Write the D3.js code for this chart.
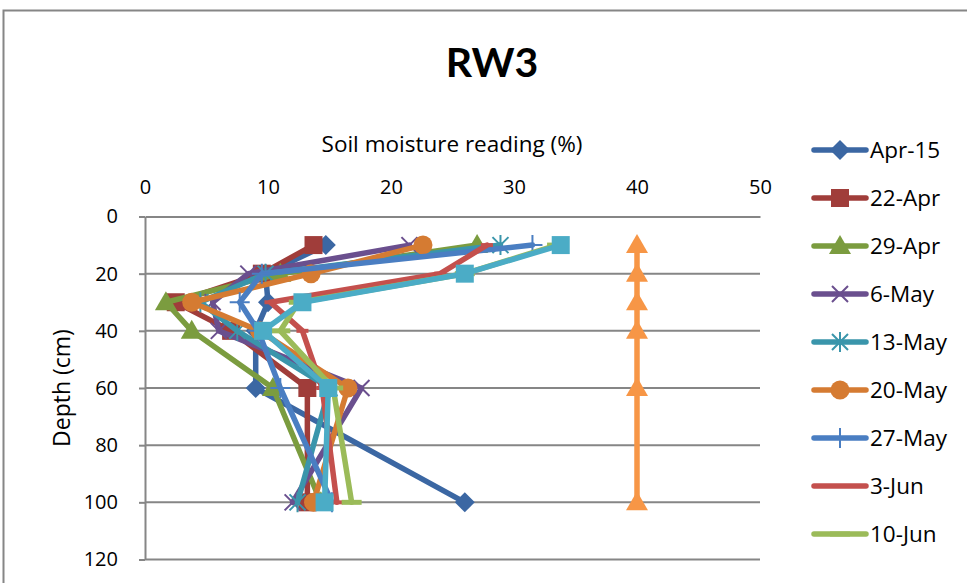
<!DOCTYPE html>
<html>
<head>
<meta charset="utf-8">
<script src="https://cdn.jsdelivr.net/npm/d3@7"></script>
<style>
  html, body { margin: 0; padding: 0; background: #fff; }
  svg { display: block; }
  text { font-family: "Open Sans", Lato, sans-serif; fill: #000; }
</style>
</head>
<body>
<svg id="chart" width="967" height="583"></svg>
<script>
// Sampling depths (cm)
const depths = [10, 20, 30, 40, 60, 100];

// Soil moisture readings (%) at each depth, one list per reading date
const seriesNames = ["Apr-15", "22-Apr", "29-Apr", "6-May", "13-May", "20-May", "27-May", "3-Jun", "10-Jun", "17-Jun", "24-Jun"];
const apr15 = [14.7, 9.8, 10.0, 9.0, 9.0, 26.0];
const apr22 = [13.7, 9.5, 2.5, 7.0, 13.2, 13.2];
const apr29 = [27.0, 11.0, 1.7, 3.8, 10.4, 14.3];
const may6  = [21.5, 8.4, 5.5, 6.0, 17.6, 12.0];
const may13 = [28.9, 9.8, 4.5, 7.5, 15.0, 12.4];
const may20 = [22.6, 13.5, 3.8, 9.3, 16.5, 13.7];
const may27 = [31.5, 9.5, 7.7, 9.2, 11.0, 15.2];
const jun3  = [27.8, 24.0, 10.2, 12.8, 14.4, 15.6];
const jun10 = [33.5, 26.0, 12.5, 11.0, 15.3, 16.8];
const jun17 = [33.8, 26.0, 12.8, 9.6, 14.9, 14.6];
const jun24 = [40, 40, 40, 40, 40, 40];
const seriesValues = [apr15, apr22, apr29, may6, may13, may20, may27, jun3, jun10, jun17, jun24];

// Axis tick values
const xTicks = [0, 10, 20, 30, 40, 50];
const yTicks = [0, 20, 40, 60, 80, 100, 120];

// Entries shown in the legend
const legendCount = 9;

const colors = ["#3B67A3", "#A03D3A", "#7B9C3F", "#6A4F8E", "#3A95AB", "#D57B32",
                "#4A7EC2", "#C4504D", "#9BBB59", "#4BACC6", "#F79646"];
const markers = ["diamond", "square", "triangle", "x", "asterisk", "circle",
                 "plus", "dash", "longdash", "square", "triangle"];

const svg = d3.select("#chart");

// Outer chart frame
svg.append("rect")
  .attr("x", 3.5).attr("y", 10.5)
  .attr("width", 1100).attr("height", 1000)
  .attr("fill", "#fff").attr("stroke", "#868686").attr("stroke-width", 2);

const plot = { left: 145, right: 760, top: 216.5, bottom: 559.5 };

const x = d3.scaleLinear().domain([0, 50]).range([plot.left, plot.right]);
const y = d3.scaleLinear().domain([0, 120]).range([plot.top, plot.bottom]);

// Title
svg.append("text")
  .attr("x", 492).attr("y", 77)
  .attr("text-anchor", "middle")
  .style("font-family", "'Liberation Sans Narrow', Lato, sans-serif")
  .style("font-weight", "bold").style("font-size", "41px")
  .text("RW3");

// Horizontal gridlines
svg.append("g").selectAll("line")
  .data(yTicks.filter(t => t > 0 && t < 120))
  .join("line")
  .attr("x1", plot.left).attr("x2", plot.right)
  .attr("y1", d => y(d)).attr("y2", d => y(d))
  .attr("stroke", "#868686").attr("stroke-width", 2);

// Top (value) axis
const xAxis = svg.append("g")
  .attr("transform", `translate(0,${plot.top})`)
  .call(d3.axisTop(x).tickValues(xTicks).tickSize(0).tickPadding(23));
xAxis.select(".domain").attr("stroke", "#868686").attr("stroke-width", 2);
xAxis.selectAll("text").style("font-size", "20px").style("font-family", "'Open Sans', sans-serif");

// Left (depth) axis
const yAxis = svg.append("g")
  .attr("transform", `translate(${plot.left},0)`)
  .call(d3.axisLeft(y).tickValues(yTicks).tickSize(6).tickPadding(21).tickSizeOuter(0));
yAxis.select(".domain").attr("stroke", "#868686").attr("stroke-width", 2);
yAxis.selectAll(".tick line").attr("stroke", "#868686").attr("stroke-width", 2);
yAxis.selectAll("text").style("font-size", "20px").style("font-family", "'Open Sans', sans-serif");

// Bottom frame line of the plot area
svg.append("line")
  .attr("x1", plot.left).attr("x2", plot.right)
  .attr("y1", plot.bottom).attr("y2", plot.bottom)
  .attr("stroke", "#868686").attr("stroke-width", 2);

// Axis titles
svg.append("text")
  .attr("x", 452).attr("y", 152)
  .attr("text-anchor", "middle")
  .style("font-size", "22.5px")
  .text("Soil moisture reading (%)");

svg.append("text")
  .attr("transform", `translate(70,${(plot.top + plot.bottom) / 2}) rotate(-90)`)
  .attr("text-anchor", "middle")
  .style("font-size", "23px")
  .text("Depth (cm)");

// Marker drawing helper
function drawMarker(g, type, color, cx, cy) {
  const s = 9;
  if (type === "diamond") {
    g.append("path").attr("d", `M${cx},${cy - 10}L${cx + 10},${cy}L${cx},${cy + 10}L${cx - 10},${cy}Z`)
      .attr("fill", color);
  } else if (type === "square") {
    g.append("rect").attr("x", cx - s).attr("y", cy - s).attr("width", 2 * s).attr("height", 2 * s)
      .attr("fill", color);
  } else if (type === "triangle") {
    g.append("path").attr("d", `M${cx},${cy - 11}L${cx + 11},${cy + 8}L${cx - 11},${cy + 8}Z`)
      .attr("fill", color);
  } else if (type === "circle") {
    g.append("circle").attr("cx", cx).attr("cy", cy).attr("r", 9.5).attr("fill", color);
  } else if (type === "x") {
    g.append("path").attr("d", `M${cx - 8},${cy - 8}L${cx + 8},${cy + 8}M${cx - 8},${cy + 8}L${cx + 8},${cy - 8}`)
      .attr("stroke", color).attr("stroke-width", 2).attr("fill", "none");
  } else if (type === "asterisk") {
    g.append("path").attr("d", `M${cx - 8},${cy - 8}L${cx + 8},${cy + 8}M${cx - 8},${cy + 8}L${cx + 8},${cy - 8}M${cx},${cy - 10}L${cx},${cy + 10}`)
      .attr("stroke", color).attr("stroke-width", 2).attr("fill", "none");
  } else if (type === "plus") {
    g.append("path").attr("d", `M${cx - 10},${cy}L${cx + 10},${cy}M${cx},${cy - 10}L${cx},${cy + 10}`)
      .attr("stroke", color).attr("stroke-width", 2).attr("fill", "none");
  } else if (type === "dash") {
    g.append("path").attr("d", `M${cx - 6},${cy}L${cx + 6},${cy}`)
      .attr("stroke", color).attr("stroke-width", 4).attr("fill", "none");
  } else if (type === "longdash") {
    g.append("path").attr("d", `M${cx - 10},${cy}L${cx + 10},${cy}`)
      .attr("stroke", color).attr("stroke-width", 5).attr("fill", "none");
  }
}

// Series lines with markers
const line = d3.line().x(d => x(d.v)).y(d => y(d.d));
seriesValues.forEach((vals, i) => {
  const pts = vals.map((v, k) => ({ v, d: depths[k] }));
  const g = svg.append("g").attr("class", "series");
  g.append("path").datum(pts)
    .attr("d", line)
    .attr("fill", "none")
    .attr("stroke", colors[i])
    .attr("stroke-width", 5.5)
    .attr("stroke-linejoin", "round")
    .attr("stroke-linecap", "round");
  pts.forEach(p => drawMarker(g, markers[i], colors[i], x(p.v), y(p.d)));
});

// Legend
const legend = svg.append("g");
seriesNames.slice(0, legendCount).forEach((name, i) => {
  const cy = 150 + i * 48;
  legend.append("line")
    .attr("x1", 814).attr("x2", 866).attr("y1", cy).attr("y2", cy)
    .attr("stroke", colors[i]).attr("stroke-width", 5.5).attr("stroke-linecap", "round");
  drawMarker(legend, markers[i], colors[i], 840, cy);
  legend.append("text")
    .attr("x", 870).attr("y", cy + 8)
    .style("font-size", "22.5px")
    .text(name);
});
</script>
</body>
</html>
